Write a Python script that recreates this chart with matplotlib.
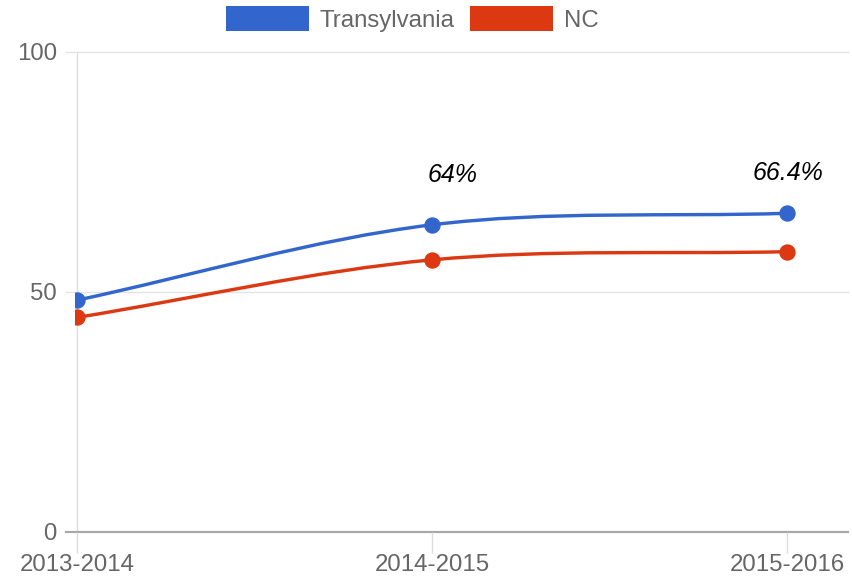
import numpy as np
import matplotlib
matplotlib.use("Agg")
import matplotlib.pyplot as plt
from matplotlib.path import Path
from matplotlib.patches import PathPatch, Patch

plt.rcParams['font.family'] = ['Liberation Sans', 'DejaVu Sans']

# data
years = ["2013-2014", "2014-2015", "2015-2016"]
transylvania = [48.3, 64.0, 66.4]
nc = [44.7, 56.7, 58.4]
annot_labels = ["", "64%", "66.4%"]
y_ticks = [0, 50, 100]

BLUE = "#3366cc"
RED = "#dc3912"
TXT = "#666666"
PX = 0.72  # points per pixel at dpi 100


def smooth_path(xs, ys):
    # cardinal-spline style curve, drawn as cubic beziers between the data points
    xs = np.asarray(xs, float)
    ys = np.asarray(ys, float)
    n = len(xs)
    mx = np.zeros(n)
    my = np.zeros(n)
    for i in range(n):
        a = max(i - 1, 0)
        b = min(i + 1, n - 1)
        scale = 0.5 if 0 < i < n - 1 else 1.0
        mx[i] = (xs[b] - xs[a]) * scale
        my[i] = (ys[b] - ys[a]) * scale
    verts = [(xs[0], ys[0])]
    codes = [Path.MOVETO]
    for i in range(n - 1):
        verts += [(xs[i] + mx[i] / 3, ys[i] + my[i] / 3),
                  (xs[i + 1] - mx[i + 1] / 3, ys[i + 1] - my[i + 1] / 3),
                  (xs[i + 1], ys[i + 1])]
        codes += [Path.CURVE4] * 3
    return Path(verts, codes)


W, H = 852, 581
fig = plt.figure(figsize=(W / 100, H / 100), dpi=100)
ax = fig.add_axes([75 / W, 1 - 532 / H, (848 - 75) / W, 480 / H])

x = np.arange(len(years))
ax.set_xlim(-2 / 355, (848 - 77) / 355)
ax.set_ylim(0, 100)
for s in ax.spines.values():
    s.set_visible(False)

# gridlines, reaching a little left of the plot area
grid_x0 = (66 - 75) / (848 - 75)
for yv in y_ticks:
    if yv == 0:
        continue
    ax.plot([grid_x0, 1], [yv, yv], transform=ax.get_yaxis_transform(),
            color="#e3e3e3", lw=1.3 * PX, clip_on=False, zorder=0)
ax.axvline(0, color="#dddddd", lw=1.3 * PX, zorder=0)
ax.plot([grid_x0, 1], [0, 0], transform=ax.get_yaxis_transform(),
        color="#a8a8a8", lw=2.2 * PX, clip_on=False, zorder=1)

fs = 24 * PX
ax.set_yticks(y_ticks)
ax.set_yticklabels([str(v) for v in y_ticks])
ax.tick_params(axis="y", length=0, pad=18 * PX, labelsize=fs, labelcolor=TXT)
ax.set_xticks(x)
ax.set_xticklabels(years)
ax.tick_params(axis="x", length=21 * PX, width=1.3 * PX, color="#dddddd",
               pad=1, labelsize=fs, labelcolor=TXT)

for vals, col in [(transylvania, BLUE), (nc, RED)]:
    ax.add_patch(PathPatch(smooth_path(x, vals), fill=False, edgecolor=col,
                           lw=3.4 * PX, zorder=3, capstyle="round"))
    ax.plot(x, vals, "o", color=col, markersize=15 * PX, zorder=4)

offsets = [(0, 0), (21, 50), (1, 40)]
for xi, yi, lab, (dx, dy) in zip(x, transylvania, annot_labels, offsets):
    if lab:
        ax.annotate(lab, (xi, yi), xytext=(dx * PX, dy * PX),
                    textcoords="offset points", ha="center", va="center",
                    fontsize=25 * PX, fontstyle="italic", color="black")

handles = [Patch(facecolor=BLUE, label="Transylvania"),
           Patch(facecolor=RED, label="NC")]
fig.legend(handles=handles, loc="center", ncol=2, frameon=False,
           bbox_to_anchor=(412 / W, 1 - 19 / H), fontsize=fs, labelcolor=TXT,
           handlelength=83 / 24, handleheight=28 / 24, handletextpad=11 / 24,
           columnspacing=15 / 24, borderpad=0)

fig.savefig("out.png", dpi=100)
